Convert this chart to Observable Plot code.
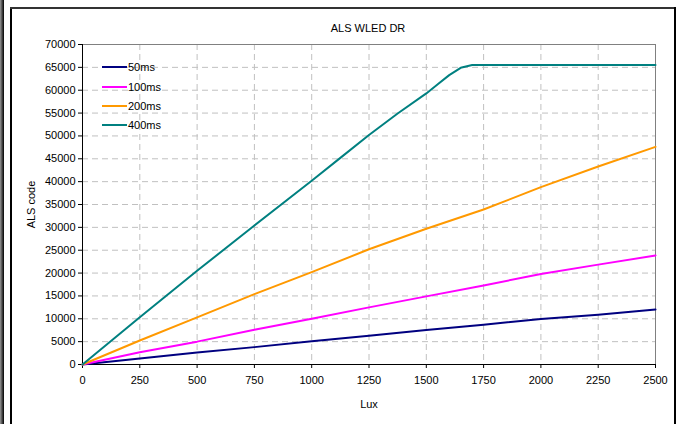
<!DOCTYPE html>
<html>
<head>
<meta charset="utf-8">
<script src="https://cdn.jsdelivr.net/npm/d3@7"></script>
<script src="https://cdn.jsdelivr.net/npm/@observablehq/plot@0.6"></script>
<style>
  body { margin: 0; background: #fff; font-family: "Liberation Sans", Arial, sans-serif; }
  #wrap { position: relative; width: 680px; height: 424px; overflow: hidden; }
  .edge { position: absolute; background: #000; }
  #title { height: 38px; line-height: 14px; padding-top: 21px; box-sizing: border-box; text-align: center; font-size: 11px; padding-left: 56px; }
  #legend { position: absolute; left: 102px; top: 58px; font-size: 11px; }
  .row { position: absolute; left: 0; height: 14px; white-space: nowrap; }
  .sw { position: absolute; left: 0; top: 8px; width: 25px; height: 2px; }
  .lb { position: absolute; left: 26px; top: 3px; }
  #chart { position: absolute; left: 0; top: 38px; }
</style>
</head>
<body>
<div id="wrap">
  <div class="edge" style="left:0;top:0;width:4px;height:424px;background:linear-gradient(to right,#999,#000);"></div>
  <div class="edge" style="left:10px;top:7px;width:2px;height:417px;"></div>
  <div class="edge" style="left:10px;top:7px;width:666px;height:2px;background:#333;"></div>
  <div class="edge" style="left:674px;top:7px;width:2px;height:417px;"></div>
  <div id="title">ALS WLED DR</div>
  <div id="chart"></div>
  <div id="legend"></div>
</div>
<script>
const seriesNames = ["50ms", "100ms", "200ms", "400ms"];
const seriesColors = ["#000080", "#ff00ff", "#ff9900", "#008080"];

const lux = [0, 250, 500, 750, 1000, 1250, 1500, 1750, 2000, 2250, 2500];
const s50  = [0, 1300, 2600, 3800, 5100, 6300, 7550, 8700, 9950, 10900, 12050];
const s100 = [0, 2700, 5000, 7600, 10000, 12500, 14900, 17300, 19800, 21850, 23850];
const s200 = [0, 5250, 10300, 15400, 20200, 25200, 29700, 33900, 38800, 43300, 47600];

const lux400 = [0, 250, 500, 750, 1000, 1125, 1250, 1375, 1500, 1550, 1600, 1650, 1700, 2000, 2250, 2500];
const s400   = [0, 10350, 20500, 30400, 40200, 45200, 50200, 54900, 59300, 61300, 63300, 64900, 65535, 65535, 65535, 65535];

const yTicks = d3.range(0, 70001, 5000);
const xTicks = d3.range(0, 2501, 250);

const rows = [];
[[lux, s50], [lux, s100], [lux, s200], [lux400, s400]].forEach(([xs, ys], i) => {
  xs.forEach((x, j) => rows.push({series: seriesNames[i], lux: x, code: ys[j]}));
});

const chart = Plot.plot({
  width: 680,
  height: 386,
  marginLeft: 82,
  marginRight: 25,
  marginTop: 6,
  marginBottom: 60,
  style: {fontFamily: "Liberation Sans, Arial, sans-serif", fontSize: "11px", color: "#000", background: "transparent"},
  x: {domain: [0, 2500]},
  y: {domain: [0, 70000]},
  color: {domain: seriesNames, range: seriesColors},
  marks: [
    Plot.gridY(yTicks.filter(d => d > 0 && d < 70000), {stroke: "#c0c0c0", strokeOpacity: 1, strokeDasharray: "6,4"}),
    Plot.gridX(xTicks.filter(d => d > 0 && d < 2500), {stroke: "#c0c0c0", strokeOpacity: 1, strokeDasharray: "6,4"}),
    Plot.frame({stroke: "#808080"}),
    Plot.ruleX([0], {stroke: "#000"}),
    Plot.ruleY([0], {stroke: "#000"}),
    Plot.axisY(yTicks, {tickSize: 4, tickPadding: 3, tickFormat: d => String(d), label: "ALS code", labelArrow: false, labelAnchor: "center", labelOffset: 55, fontSize: 11}),
    Plot.axisX(xTicks, {tickSize: 4, tickPadding: 8, tickFormat: d => String(d), label: "Lux", labelArrow: false, labelAnchor: "center", labelOffset: 43, fontSize: 11}),
    Plot.line(rows, {x: "lux", y: "code", z: "series", stroke: "series", strokeWidth: 2})
  ]
});
document.getElementById("chart").appendChild(chart);

const legend = document.getElementById("legend");
const rowTops = [0, 19.5, 39, 58];
seriesNames.forEach((name, i) => {
  const r = document.createElement("div");
  r.className = "row";
  r.style.top = rowTops[i] + "px";
  r.innerHTML = `<div class="sw" style="background:${seriesColors[i]}"></div><span class="lb">${name}</span>`;
  legend.appendChild(r);
});
</script>
</body>
</html>
